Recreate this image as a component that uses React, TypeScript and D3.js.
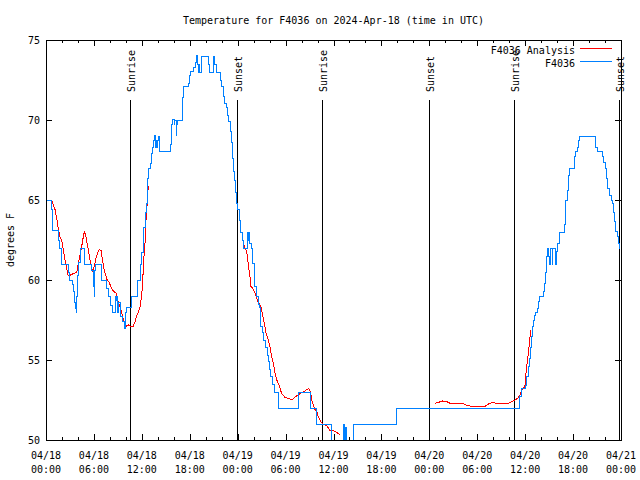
import React from 'react';
import * as d3 from 'd3';

// Observed F4036 (hours since 04/18 00:00 UTC, degrees F) — step series
const obsHours = [0, 0.63, 0.84, 1.54, 1.75, 1.88, 2.79, 2.88, 3.29, 3.44, 3.54, 3.67, 3.76, 3.84, 3.97, 4.09, 4.26, 4.8, 5.72, 5.92, 6.05, 6.13, 6.22, 6.89, 7.6, 7.8, 8.1, 8.3, 8.64, 8.8, 8.89, 8.98, 9.14, 9.35, 9.52, 9.77, 9.93, 10.05, 10.73, 11.48, 11.86, 11.98, 12.18, 12.4, 12.61, 12.73, 12.86, 13.11, 13.23, 13.36, 13.49, 13.56, 13.69, 13.77, 13.86, 13.99, 14.11, 14.19, 15.53, 15.74, 15.86, 16.03, 16.15, 16.28, 16.36, 16.44, 17.07, 17.19, 17.82, 17.91, 18.12, 18.44, 18.66, 18.87, 18.95, 19.07, 19.19, 19.28, 19.5, 20.32, 20.45, 20.95, 21.16, 21.32, 21.79, 21.88, 22.0, 22.2, 22.41, 22.63, 22.75, 22.88, 23.04, 23.17, 23.33, 23.45, 23.58, 23.7, 23.88, 24.0, 24.17, 24.38, 24.63, 24.76, 25.26, 25.33, 25.42, 25.54, 25.76, 25.88, 26.05, 26.17, 26.38, 26.58, 26.71, 26.8, 26.88, 27.09, 27.26, 27.51, 27.71, 27.84, 27.96, 28.14, 28.34, 28.59, 29.09, 31.59, 33.06, 33.81, 35.73, 37.28, 37.4, 37.55, 37.65, 38.48, 43.91, 59.27, 59.35, 59.56, 59.98, 60.19, 60.39, 60.52, 60.64, 60.77, 60.89, 61.02, 61.14, 61.32, 61.52, 61.64, 61.77, 62.27, 62.39, 62.57, 62.69, 62.77, 62.89, 63.02, 63.23, 63.36, 63.48, 63.74, 63.95, 64.08, 64.24, 64.9, 64.99, 65.11, 65.28, 65.4, 65.53, 66.15, 66.33, 66.53, 66.65, 66.78, 68.75, 69.08, 69.66, 69.87, 70.0, 70.21, 70.34, 70.54, 70.75, 70.91, 71.04, 71.16, 71.34, 71.59, 71.67, 71.79, 71.88];
const obsTemps = [65, 64.4, 63.1, 62.5, 62, 61, 60.5, 60, 59.7, 59.3, 58.6, 58.25, 58, 59, 60.3, 61.1, 62, 61, 60.6, 59.6, 59, 60.6, 61, 60, 59.5, 59, 58.4, 58, 59, 58.7, 59, 58, 58.6, 57.7, 57.4, 57, 58, 58.3, 59, 60, 61, 61.7, 63.3, 64.2, 64.8, 66.35, 67, 67.3, 67.9, 68.3, 68.75, 69.06, 68.3, 68.75, 68.3, 68.7, 69, 68.06, 68.5, 69.7, 70.06, 69.7, 70, 69.06, 69.7, 70, 71.4, 72.08, 72.3, 72.8, 73.06, 73.27, 73.6, 74.06, 73.5, 73, 73.5, 73, 74, 73.5, 73, 74, 73.5, 73, 72.9, 72.5, 72.1, 71.46, 71.04, 70.8, 70.3, 69.9, 69.27, 68.6, 67.6, 66.8, 66.25, 65.5, 64.8, 64.4, 63.75, 63, 62.5, 62, 63, 62.5, 63, 62.3, 62, 61.04, 60.4, 59.6, 59, 58.5, 58.3, 57.9, 57.1, 56.7, 56.25, 55.8, 55.3, 54.9, 54.4, 54, 53.5, 53, 52, 53, 52, 51, 49.5, 51, 49.5, 50.8, 49.5, 51, 52, 52.7, 52.7, 53.2, 53.4, 54, 54.6, 55.1, 55.8, 56.46, 57.1, 57.5, 57.8, 58, 58.2, 58.65, 58.96, 59.3, 59.8, 60.5, 61.46, 62, 61.5, 61, 62, 61, 62, 61, 61.77, 62.3, 63, 63.5, 64.6, 65, 65.6, 66.56, 67, 67.7, 68.06, 68.27, 68.75, 69, 68.3, 68.06, 67.7, 67.35, 67, 66.35, 65.7, 65.27, 65, 64.8, 64.2, 63.65, 63.06, 62.7, 62.3, 62, 62];

// F4036 Analysis (null = gap)
const anaHours = [0.79, 0.91, 1.13, 1.34, 1.54, 1.75, 1.97, 2.17, 2.38, 2.59, 2.79, 3.01, 3.42, 3.84, 4.04, 4.26, 4.47, 4.67, 4.8, 4.97, 5.1, 5.3, 5.51, 5.72, 5.85, 6.05, 6.26, 6.47, 6.67, 6.89, 7.05, 7.26, 7.48, 7.68, 7.89, 8.1, 8.3, 8.51, 8.77, 8.93, 9.14, 9.35, 9.55, 9.77, 10.02, 10.31, 10.61, 10.93, 11.15, 11.36, 11.56, 11.77, 11.98, 12.11, 12.27, 12.4, 12.52, 12.68, 12.81,
  null,
  24.79, 24.92, 25.13, 25.33, 25.54, 25.67, 25.88, 26.17, 26.38, 26.58, 26.88, 27.09, 27.34, 27.55, 27.84, 28.05, 28.26, 28.46, 28.68, 28.89, 29.18, 29.51, 29.93, 30.43, 30.77, 30.97, 31.39, 31.81, 32.22, 32.65, 32.93, 33.12, 33.27, 33.47, 33.68, 33.9, 34.1, 34.4, 34.72, 35.15, 35.56, 35.98, 36.4, 36.81,
  null,
  48.71, 49.12, 49.67, 50.17, 50.59, 52.13, 52.47, 53.31, 54.97, 55.39, 55.81, 56.44, 57.89, 58.32, 58.73, 59.14, 59.35, 59.56, 59.76, 59.98, 60.07, 60.19, 60.32, 60.48, 60.61, 60.73];
const anaTemps = [64.96, 64.7, 64.4, 63.85, 63.2, 62.7, 62.5, 61.9, 61.25, 60.7, 60.25, 60.3, 60.4, 60.46, 61, 61.56, 62.1, 62.7, 63, 62.8, 62.4, 61.9, 61.25, 60.8, 60.5, 60.9, 61.35, 61.7, 61.9, 61.85, 61.35, 60.7, 60.3, 59.96, 59.9, 59.6, 59.4, 59.27, 59.2, 58.85, 58.5, 58.17, 57.8, 57.4, 57.1, 57.2, 57.1, 57.1, 57.4, 57.75, 58, 58.3, 59, 60, 61.46, 62.3, 63.75, 64.8, 65.9,
  null,
  62.2, 62, 61.8, 61, 60.2, 59.6, 59.5, 59.2, 58.85, 58.6, 58.4, 57.9, 57.3, 56.7, 56.25, 55.8, 55.2, 54.8, 54.2, 53.75, 53.44, 52.9, 52.66, 52.6, 52.5, 52.6, 52.75, 52.9, 53, 53.15, 53.2, 53, 52.5, 52.2, 51.9, 51.8, 51.46, 51.15, 51, 50.9, 50.6, 50.6, 50.46, 50.35,
  null,
  52.3, 52.35, 52.44, 52.4, 52.3, 52.3, 52.2, 52.1, 52.1, 52.25, 52.33, 52.3, 52.3, 52.4, 52.5, 52.65, 52.8, 53.1, 53.2, 53.4, 54, 54.6, 55.1, 55.8, 56.46, 56.9];

const sunHours = [10.52, 23.92, 34.56, 47.96, 58.6, 71.8];
const sunLabels = ['Sunrise', 'Sunset', 'Sunrise', 'Sunset', 'Sunrise', 'Sunset'];

const xTickHours = [0, 6, 12, 18, 24, 30, 36, 42, 48, 54, 60, 66, 72];
const xTickDates = ['04/18', '04/18', '04/18', '04/18', '04/19', '04/19', '04/19', '04/19', '04/20', '04/20', '04/20', '04/20', '04/21'];
const xTickTimes = ['00:00', '06:00', '12:00', '18:00', '00:00', '06:00', '12:00', '18:00', '00:00', '06:00', '12:00', '18:00', '00:00'];
const yTicks = [50, 55, 60, 65, 70, 75];

const seriesNames = ['F4036 Analysis', 'F4036'];
const seriesColors = ['#ff0000', '#0080ff'];

const FONT = '"DejaVu Sans Mono", "Liberation Mono", monospace';

export default function App() {
  const W = 640, H = 480;
  const L = 46, R = 621, T = 40, B = 440;
  const x = d3.scaleLinear().domain([0, 72]).range([L, R]);
  const y = d3.scaleLinear().domain([50, 75]).range([B, T]);

  const obs: [number, number][] = obsHours.map((h, i) => [h, obsTemps[i]]);
  const ana: [number | null, number | null][] = anaHours.map((h, i) => [h, anaTemps[i]]);

  const obsPath = d3.line<[number, number]>()
    .x(d => x(d[0])).y(d => y(d[1]))
    .curve(d3.curveStepAfter)(obs) || '';
  const anaPath = d3.line<[number | null, number | null]>()
    .defined(d => d[0] != null && d[1] != null)
    .x(d => x(d[0] as number)).y(d => y(d[1] as number))(ana) || '';

  const minorTicks = d3.range(0, 73, 2).filter(h => h % 6 !== 0);

  return (
    <svg width={W} height={H} style={{ position: 'absolute', left: 0, top: 0, background: '#fff' }}
      fontFamily={FONT} fontSize={10}>
      <rect x={0} y={0} width={W} height={H} fill="#fff" />
      <defs>
        <clipPath id="plot">
          <rect x={L} y={T} width={R - L} height={B - T} />
        </clipPath>
      </defs>
      <text x={(L + R) / 2} y={24} textAnchor="middle">Temperature for F4036 on 2024-Apr-18 (time in UTC)</text>
      <text transform={`translate(14,${(T + B) / 2}) rotate(-90)`} textAnchor="middle">degrees F</text>

      {/* y ticks */}
      {yTicks.map(v => (
        <g key={'y' + v}>
          <line x1={L} x2={L + 6} y1={Math.round(y(v)) + 0.5} y2={Math.round(y(v)) + 0.5} stroke="#000" shapeRendering="crispEdges" />
          <line x1={R - 6} x2={R} y1={Math.round(y(v)) + 0.5} y2={Math.round(y(v)) + 0.5} stroke="#000" shapeRendering="crispEdges" />
          <text x={L - 6} y={y(v)} dy="0.35em" textAnchor="end">{v}</text>
        </g>
      ))}

      {/* x ticks */}
      {xTickHours.map((h, i) => (
        <g key={'x' + h}>
          <line x1={Math.round(x(h)) + 0.5} x2={Math.round(x(h)) + 0.5} y1={B} y2={B - 6} stroke="#000" shapeRendering="crispEdges" />
          <line x1={Math.round(x(h)) + 0.5} x2={Math.round(x(h)) + 0.5} y1={T} y2={T + 6} stroke="#000" shapeRendering="crispEdges" />
          <text x={x(h)} y={459} textAnchor="middle">{xTickDates[i]}</text>
          <text x={x(h)} y={473} textAnchor="middle">{xTickTimes[i]}</text>
        </g>
      ))}
      {minorTicks.map(h => (
        <g key={'m' + h}>
          <line x1={Math.round(x(h)) + 0.5} x2={Math.round(x(h)) + 0.5} y1={B} y2={B - 3} stroke="#000" shapeRendering="crispEdges" />
          <line x1={Math.round(x(h)) + 0.5} x2={Math.round(x(h)) + 0.5} y1={T} y2={T + 3} stroke="#000" shapeRendering="crispEdges" />
        </g>
      ))}

      {/* sun events */}
      {sunHours.map((h, i) => {
        const sx = Math.round(x(h)) + 0.5;
        return (
          <g key={'s' + i}>
            <line x1={sx} x2={sx} y1={100} y2={B} stroke="#000" shapeRendering="crispEdges" />
            <text transform={`translate(${sx + 4},92) rotate(-90)`} textAnchor="start">{sunLabels[i]}</text>
          </g>
        );
      })}

      {/* data */}
      <g clipPath="url(#plot)">
        <path d={anaPath} fill="none" stroke={seriesColors[0]} strokeWidth={1} shapeRendering="crispEdges" />
        <path d={obsPath} fill="none" stroke={seriesColors[1]} strokeWidth={1} shapeRendering="crispEdges" />
      </g>

      {/* frame */}
      <rect x={L + 0.5} y={T + 0.5} width={R - L} height={B - T} fill="none" stroke="#000" shapeRendering="crispEdges" />

      {/* legend */}
      {seriesNames.map((n, i) => (
        <g key={'l' + i}>
          <text x={575} y={50 + i * 13} dy="0.35em" textAnchor="end">{n}</text>
          <line x1={580} x2={612} y1={48.5 + i * 13} y2={48.5 + i * 13} stroke={seriesColors[i]} shapeRendering="crispEdges" />
        </g>
      ))}
    </svg>
  );
}
